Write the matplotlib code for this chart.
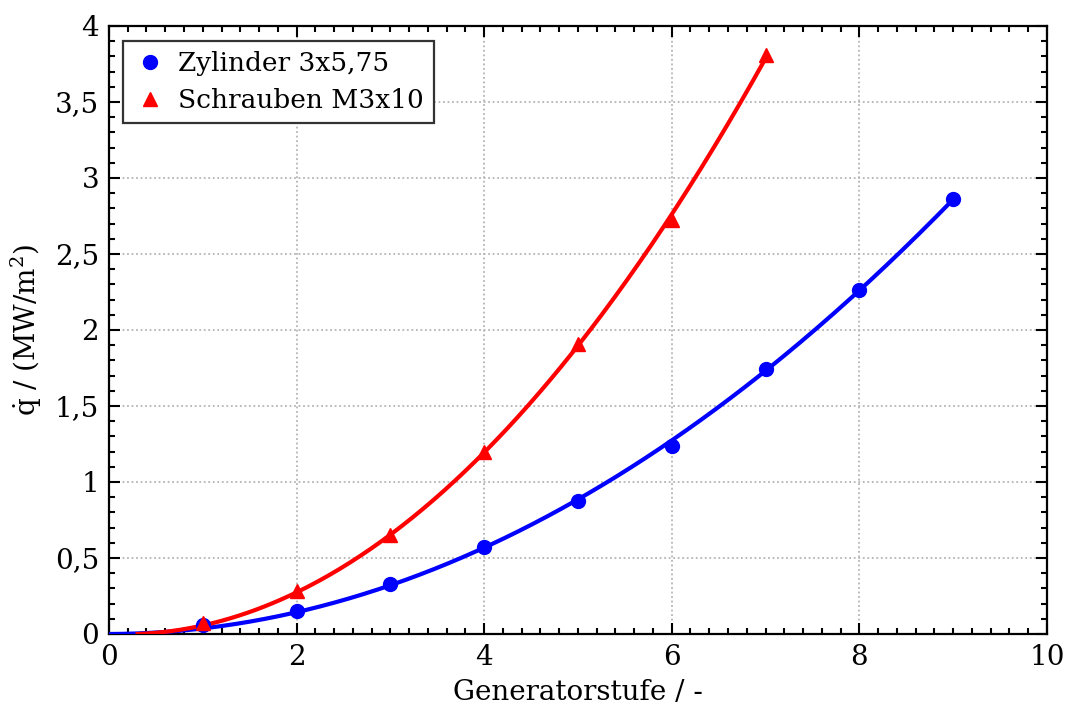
import numpy as np
import matplotlib
matplotlib.use("Agg")
import matplotlib.pyplot as plt
from matplotlib.ticker import MultipleLocator, FixedLocator

# measured values
stufe_zyl = [1, 2, 3, 4, 5, 6, 7, 8, 9]
q_zyl = [0.06, 0.152, 0.330, 0.572, 0.878, 1.238, 1.745, 2.265, 2.862]
stufe_schr = [1, 2, 3, 4, 5, 6, 7]
q_schr = [0.07, 0.283, 0.650, 1.195, 1.905, 2.722, 3.810]

x_ticks = [0, 2, 4, 6, 8, 10]
y_ticks = [0, 0.5, 1, 1.5, 2, 2.5, 3, 3.5, 4]
y_ticklabels = ["0", "0,5", "1", "1,5", "2", "2,5", "3", "3,5", "4"]

plt.rcParams['font.family'] = ['DejaVu Serif']
plt.rcParams['mathtext.fontset'] = 'dejavuserif'
plt.rcParams['font.size'] = 20


def fit_curve(x, y):
    # trend line a*x^2 + b*x through the origin, started at its zero crossing
    x = np.asarray(x, float)
    A = np.column_stack([x ** 2, x])
    a, b = np.linalg.lstsq(A, np.asarray(y, float), rcond=None)[0]
    x0 = max(0.0, -b / a)
    xs = np.linspace(x0, x[-1], 300)
    return xs, a * xs ** 2 + b * xs


fig = plt.figure(figsize=(10.65, 7.18), dpi=100)
ax = fig.add_axes([0.1023, 0.117, 0.8807, 0.8468])

xs, ys = fit_curve(stufe_zyl, q_zyl)
ax.plot(xs, ys, color='#0000ff', lw=3, zorder=3)
xs, ys = fit_curve(stufe_schr, q_schr)
ax.plot(xs, ys, color='#ff0000', lw=3, zorder=3)

ax.plot(stufe_zyl, q_zyl, 'o', color='#0000ff', ms=10, ls='none',
        label='Zylinder 3x5,75', zorder=4)
ax.plot(stufe_schr, q_schr, '^', color='#ff0000', ms=10.5, ls='none',
        label='Schrauben M3x10', zorder=4)

ax.set_xlim(0, 10)
ax.set_ylim(0, 4)
ax.xaxis.set_major_locator(FixedLocator(x_ticks))
ax.xaxis.set_minor_locator(MultipleLocator(0.2))
ax.yaxis.set_major_locator(FixedLocator(y_ticks))
ax.set_yticklabels(y_ticklabels)
ax.yaxis.set_minor_locator(MultipleLocator(0.1))

ax.tick_params(which='both', direction='in', top=True, right=True, width=1.5)
ax.tick_params(which='major', length=8, pad=7)
ax.tick_params(which='minor', length=4)
for s in ax.spines.values():
    s.set_linewidth(1.6)

ax.grid(True, which='major', color='#b4b4b4', ls=(0, (1, 1.5)), lw=1.3)

ax.set_xlabel('Generatorstufe / -', labelpad=6)
ax.set_ylabel(r'$\dot{\mathrm{q}}$ / (MW/m$^2$)', labelpad=8)

leg = ax.legend(loc='upper left', fancybox=False, framealpha=1, fontsize=19,
                edgecolor='#333333', handletextpad=0.45, borderpad=0.4,
                handlelength=1.2, labelspacing=0.45,
                bbox_to_anchor=(0.0, 1.0), borderaxespad=0.55)
leg.get_frame().set_linewidth(1.6)

fig.savefig('out.png', dpi=100)
